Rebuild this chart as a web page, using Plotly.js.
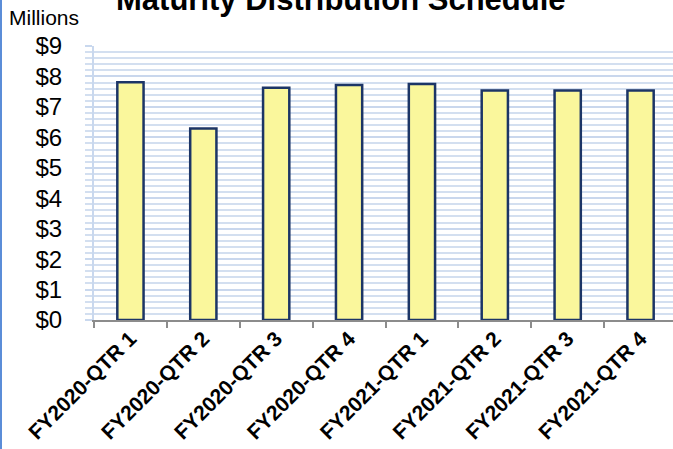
<!DOCTYPE html>
<html>
<head>
<meta charset="utf-8">
<script src="https://cdn.plot.ly/plotly-3.0.1.min.js"></script>
<style>
html, body { margin: 0; padding: 0; overflow: hidden; background: #fff; }
#chart { width: 677px; height: 449px; }
#edge { position: absolute; left: 0; top: 0; width: 2px; height: 449px; background: #5b8dd8; z-index: 10; }
</style>
</head>
<body>
<div id="edge"></div>
<div id="chart"></div>
<script>
const categories = ["FY2020-QTR 1", "FY2020-QTR 2", "FY2020-QTR 3", "FY2020-QTR 4",
                    "FY2021-QTR 1", "FY2021-QTR 2", "FY2021-QTR 3", "FY2021-QTR 4"];
const maturities = [7.81, 6.29, 7.63, 7.72, 7.75, 7.54, 7.54, 7.54];
const yTickValues = [0, 1, 2, 3, 4, 5, 6, 7, 8, 9];
const yTickLabels = ["$0", "$1", "$2", "$3", "$4", "$5", "$6", "$7", "$8", "$9"];
const chartTitle = "Maturity Distribution Schedule";
const unitLabel = "Millions";

const trace = {
  type: "bar",
  x: categories,
  y: maturities,
  marker: { color: "#faf79c", line: { color: "#1c3566", width: 2.5 } },
  hoverinfo: "x+y"
};

const layout = {
  width: 677,
  height: 449,
  margin: { l: 94, r: 0, t: 45.5, b: 129, pad: 0 },
  paper_bgcolor: "#ffffff",
  plot_bgcolor: "#ffffff",
  showlegend: false,
  bargap: 0.64,
  font: { family: "Liberation Sans, Arial, sans-serif", color: "#000" },
  xaxis: {
    type: "category",
    tickangle: -45,
    tickfont: { size: 21, color: "#000", weight: "bold" },
    ticklabelstandoff: -4,
    showline: true, linecolor: "#8c8c8c", linewidth: 2,
    ticks: "outside", tickson: "boundaries", ticklen: 6, tickcolor: "#8c8c8c", tickwidth: 2,
    showgrid: false, zeroline: false,
    fixedrange: true
  },
  yaxis: {
    range: [0, 9],
    tickvals: yTickValues,
    ticktext: yTickLabels,
    tickfont: { size: 24, color: "#000" },
    showline: true, linecolor: "#c9d8ee", linewidth: 2,
    ticks: "outside", ticklen: 7, tickcolor: "#c9d8ee", tickwidth: 2,
    ticklabelstandoff: 18,
    showgrid: true, gridcolor: "#c9d7ed", gridwidth: 2,
    minor: { dtick: 0.2, showgrid: true, gridcolor: "#d3dff0", gridwidth: 2,
             ticks: "outside", ticklen: 7, tickcolor: "#d3dff0", tickwidth: 2 },
    zeroline: false,
    fixedrange: true
  },
  annotations: [{
    text: unitLabel,
    xref: "paper", x: (7 - 94) / 583, xanchor: "left",
    yref: "paper", y: (320 - 17) / 274.5, yanchor: "middle",
    showarrow: false,
    font: { family: "Liberation Sans, Arial, sans-serif", size: 21, color: "#000" }
  }, {
    text: "<b>" + chartTitle + "</b>",
    xref: "paper", x: (341 - 94) / 583, xanchor: "center",
    yref: "paper", y: (320 - 18) / 274.5, yanchor: "bottom",
    showarrow: false,
    font: { family: "Liberation Sans, Arial, sans-serif", size: 31, color: "#000" }
  }]
};

Plotly.newPlot("chart", [trace], layout, { displayModeBar: false, staticPlot: true });
</script>
</body>
</html>
